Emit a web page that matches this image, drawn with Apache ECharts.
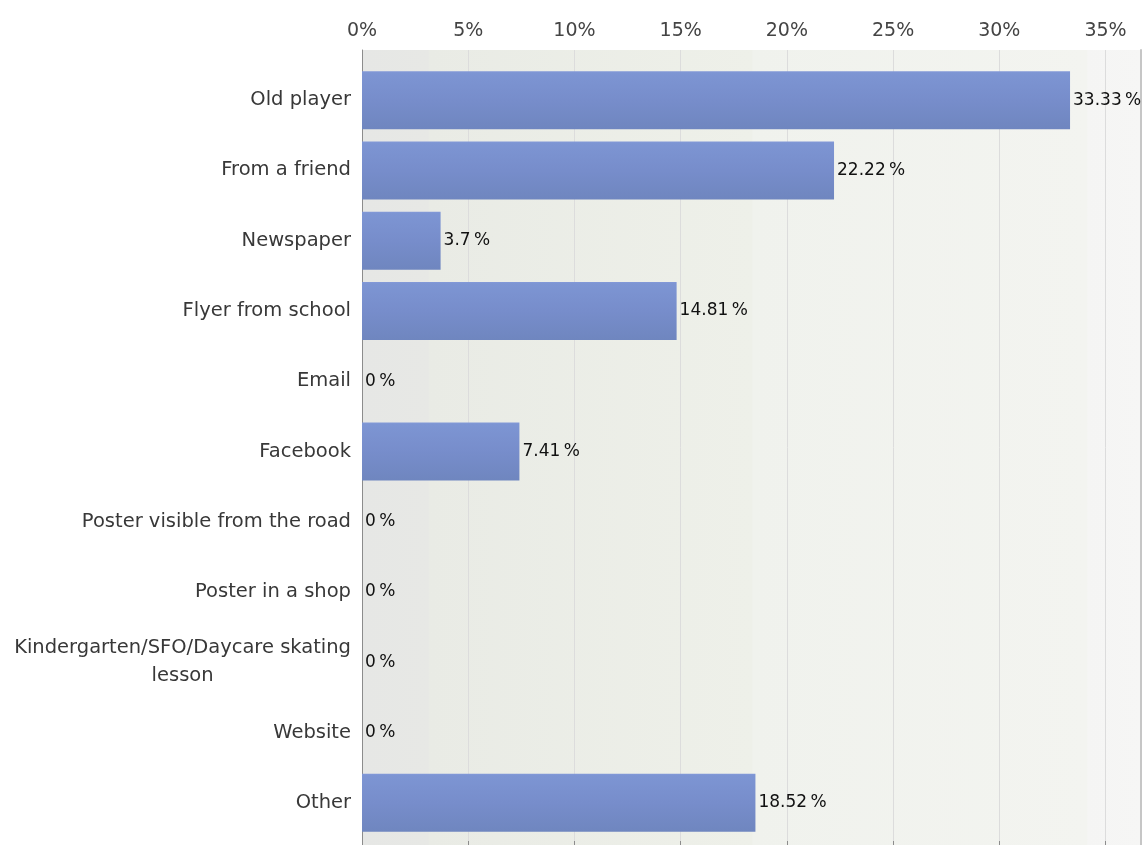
<!DOCTYPE html>
<html>
<head>
<meta charset="utf-8">
<script src="https://cdn.jsdelivr.net/npm/echarts@6/dist/echarts.min.js"></script>
<style>
html,body{margin:0;padding:0;background:#fff;}
#chart{width:1144px;height:845px;}
</style>
</head>
<body>
<div id="chart"></div>
<script>
const categories = ['Old player', 'From a friend', 'Newspaper', 'Flyer from school', 'Email', 'Facebook',
  'Poster visible from the road', 'Poster in a shop', 'Kindergarten/SFO/Daycare skating lesson', 'Website', 'Other'];
const values = [33.33, 22.22, 3.7, 14.81, 0, 7.41, 0, 0, 0, 0, 18.52];
const axisMax = 36.67;
const tickStep = 5;

const chart = echarts.init(document.getElementById('chart'));
const FONT = 'DejaVu Sans';

const option = {
  animation: false,
  backgroundColor: '#ffffff',
  grid: [
    { left: 362, right: 3, top: 65, bottom: 7, containLabel: false },
    { left: 362, right: 3, top: 50, bottom: 0, containLabel: false, show: true, borderWidth: 0, z: 0,
      backgroundColor: new echarts.graphic.LinearGradient(0, 0, 1, 0, [
        { offset: 0, color: '#e6e7e5' },
        { offset: 0.085, color: '#e7e8e5' },
        { offset: 0.087, color: '#e9ebe5' },
        { offset: 0.5, color: '#eef0e9' },
        { offset: 0.502, color: '#f0f2ed' },
        { offset: 0.93, color: '#f3f4f0' },
        { offset: 0.932, color: '#f5f5f4' },
        { offset: 1, color: '#f6f6f5' }
      ]) }
  ],
  xAxis: [
    { type: 'value', gridIndex: 0, min: 0, max: axisMax, show: false },
    { type: 'value', gridIndex: 1, position: 'top', min: 0, max: axisMax, interval: tickStep,
      axisLine: { show: true, lineStyle: { color: '#8c8c8c', width: 1 } },
      axisTick: { show: true, length: 4, lineStyle: { color: '#8c8c8c' } },
      axisLabel: { fontFamily: FONT, fontSize: 19, color: '#444', margin: 9, showMaxLabel: false,
        formatter: v => v + '%' },
      splitLine: { show: true, lineStyle: { color: '#dcdcdc', width: 1 } }
    }
  ],
  yAxis: [
    { type: 'category', gridIndex: 0, data: categories, inverse: true,
      axisLine: { show: false }, axisTick: { show: false },
      axisLabel: { fontFamily: FONT, fontSize: 19.5, color: '#383838', margin: 11, lineHeight: 28,
        formatter: function (v) {
          if (v.indexOf('Kindergarten') === 0) {
            return '{c|Kindergarten/SFO/Daycare skating}\n{c|lesson}';
          }
          return v;
        },
        rich: { c: { align: 'center', fontFamily: FONT, fontSize: 19.5, color: '#383838', lineHeight: 28 } }
      }
    },
    { type: 'value', gridIndex: 1, min: 0, max: 1, position: 'left',
      axisLine: { show: true, lineStyle: { color: '#8c8c8c', width: 1 } },
      axisTick: { show: false }, axisLabel: { show: false }, splitLine: { show: false } },
    { type: 'value', gridIndex: 1, min: 0, max: 1, position: 'right',
      axisLine: { show: true, lineStyle: { color: '#c6c6c6', width: 2 } },
      axisTick: { show: false }, axisLabel: { show: false }, splitLine: { show: false } }
  ],
  series: [{
    type: 'bar',
    xAxisIndex: 0,
    yAxisIndex: 0,
    data: values,
    barWidth: 58,
    z: 5,
    itemStyle: {
      color: new echarts.graphic.LinearGradient(0, 0, 0, 1, [
        { offset: 0, color: '#8399d8' },
        { offset: 0.03, color: '#7d95d3' },
        { offset: 0.5, color: '#778dcb' },
        { offset: 1, color: '#6f86bf' }
      ]),
      borderWidth: 0
    },
    label: {
      show: true,
      position: 'right',
      distance: 3,
      fontFamily: FONT,
      fontSize: 17,
      color: '#111',
      formatter: p => p.value + '\u2009%'
    }
  }]
};
chart.setOption(option);
</script>
</body>
</html>
